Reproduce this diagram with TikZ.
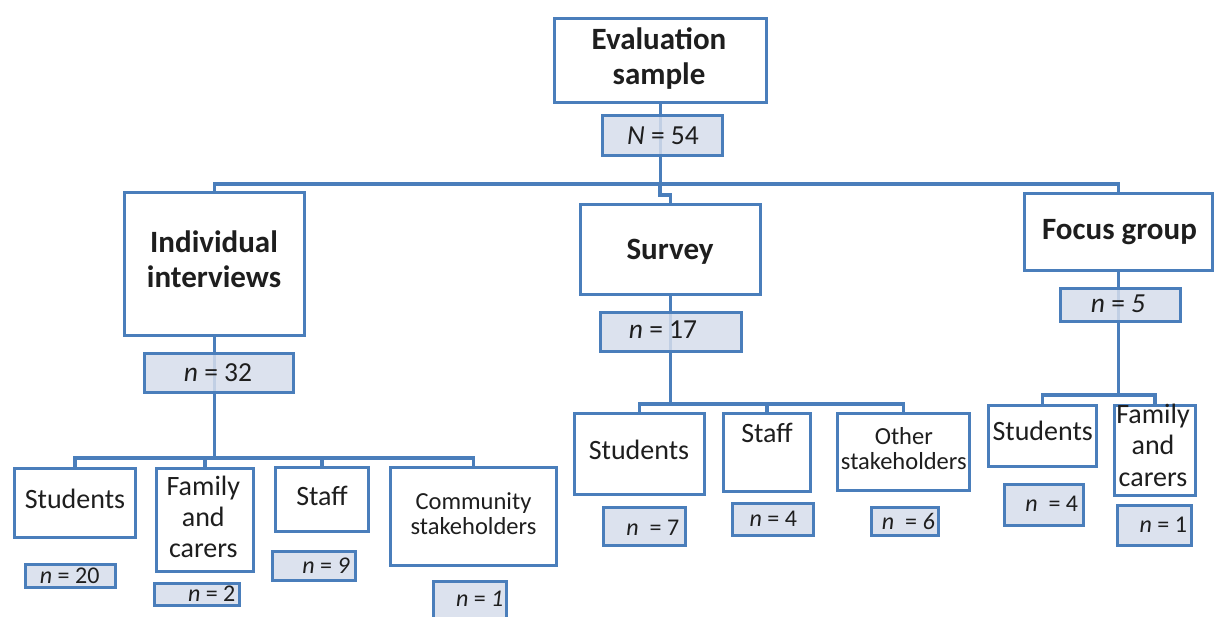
\documentclass[tikz,border=0pt]{standalone}
\usepackage{fontspec}
\setmainfont{Carlito}
\usetikzlibrary{backgrounds}
\definecolor{bl}{RGB}{74,126,187}
\definecolor{fl}{RGB}{214,222,236}
\definecolor{tx}{RGB}{30,30,30}
\tikzset{
  box/.style={draw=bl, line width=3.2pt, fill=white, rectangle, inner sep=0pt},
  nbox/.style={draw=bl, line width=3.2pt, fill=fl, fill opacity=0.85, draw opacity=1, rectangle, inner sep=0pt},
  conn/.style={draw=bl, line width=3.2pt},
  head/.style={font=\fontsize{31}{35}\selectfont\bfseries, align=center, anchor=base, inner sep=0pt, text=tx},
  sublbl/.style={font=\fontsize{28}{31}\selectfont, align=center, anchor=base, inner sep=0pt, text=tx},
  ffam/.style={font=\fontsize{28}{31.7}\selectfont, align=center, anchor=base, inner sep=0pt, text=tx},
  smlbl/.style={font=\fontsize{24.5}{25}\selectfont, align=center, anchor=base, inner sep=0pt, text=tx},
  numA/.style={font=\fontsize{27.5}{30}\selectfont, anchor=base, inner sep=0pt, text=tx},
  numB/.style={font=\fontsize{24}{26}\selectfont, anchor=base, inner sep=0pt, text=tx},
}
% box from outer corners (x1,y1)-(x2,y2), in pixels
\newcommand\mkbox[6]{\node[#6, minimum width={(#4-#2-3.2)*1pt}, minimum height={(#5-#3-3.2)*1pt}] (#1) at ({(#2+#4)/2},{(#3+#5)/2}) {};}
\begin{document}
\begin{tikzpicture}[x=1pt,y=-1pt]
\useasboundingbox (0,0) rectangle (1216,617);
\clip (0,0) rectangle (1216,617);
% main boxes
\mkbox{eval}{553}{17}{768}{104}{box}
\mkbox{ind}{123}{191}{306}{337}{box}
\mkbox{sur}{579}{203}{762}{296}{box}
\mkbox{foc}{1023}{192}{1214}{272}{box}
\mkbox{is}{13}{467}{137}{539}{box}
\mkbox{if}{155}{467}{255}{573}{box}
\mkbox{ist}{274}{466}{370}{533}{box}
\mkbox{ic}{389}{466}{558}{567}{box}
\mkbox{ss}{573}{412}{706}{496}{box}
\mkbox{sst}{722}{412}{812}{493}{box}
\mkbox{so}{836}{412}{971}{492}{box}
\mkbox{fs}{987}{404}{1098}{468}{box}
\mkbox{ff}{1113}{404}{1197}{497}{box}
% count boxes
\mkbox{n54}{601}{114}{724}{157}{nbox}
\mkbox{n32}{143}{352}{295}{394}{nbox}
\mkbox{n17}{599}{311}{743}{353}{nbox}
\mkbox{n5}{1059}{287}{1182}{323}{nbox}
\mkbox{n20}{24}{563}{117}{589}{nbox}
\mkbox{n2}{153}{582}{241}{607}{nbox}
\mkbox{n9}{271}{550}{357}{582}{nbox}
\mkbox{n1c}{432}{580}{508}{632}{nbox}
\mkbox{n7}{602}{506}{687}{547}{nbox}
\mkbox{n4s}{731}{502}{815}{537}{nbox}
\mkbox{n6}{870}{506}{940}{537}{nbox}
\mkbox{n4f}{1003}{483}{1085}{527}{nbox}
\mkbox{n1f}{1116}{504}{1193}{547}{nbox}
% bus coordinates
\coordinate (busM) at (660,184);
\coordinate (ibus) at (215,458);
\coordinate (sbus) at (670,404);
\coordinate (fbus) at (1119,395);
% connectors behind the boxes
\begin{pgfonlayer}{background}
\fill[white] (0,0) rectangle (1216,617);
\draw[conn] (eval.south) -- (eval.south |- busM);
\draw[conn] (ind.north) |- (busM) -| (foc.north);
\draw[conn] (busM) -- ++(0,11) -| (sur.north);
\draw[conn] (ind.south) -- (ind.south |- ibus);
\draw[conn] (is.north) |- (ibus) -| (ic.north);
\draw[conn] (if.north) -- (if.north |- ibus);
\draw[conn] (ist.north) -- (ist.north |- ibus);
\draw[conn] (sur.south) -- (sur.south |- sbus);
\draw[conn] (ss.north) |- (sbus) -| (so.north);
\draw[conn] (sst.north) -- (sst.north |- sbus);
\draw[conn] (foc.south) -- (foc.south |- fbus);
\draw[conn] (fs.north) |- (fbus) -| (ff.north);
\end{pgfonlayer}
% texts (anchor base = baseline of the last line)
\node[head] (evalT) at (659,85) {Evaluation\\sample};
\node[head] (indT) at (214,288) {Individual\\interviews};
\node[head] (surT) at (670,260) {Survey};
\node[head] (focT) at (1119.5,240) {Focus group};
\node[numA] (n54T) at (663,145) {\textit{N} = 54};
\node[numA] (n32T) at (218,381.7) {\textit{n} = 32};
\node[numA] (n17T) at (663,339) {\textit{n} = 17};
\node[numA] (n5T) at (1118,312.7) {\textit{n} = \textit{5}};
\node[sublbl] (isT) at (75,508.3) {Students};
\node[sublbl] (ifT) at (203.3,557.3) {Family\\and\\carers};
\node[sublbl] (istT) at (322,505.7) {Staff};
\node[smlbl] (icT) at (473.5,534) {Community\\stakeholders};
\node[sublbl] (ssT) at (639,460) {Students};
\node[sublbl] (sstT) at (767,442.7) {Staff};
\node[smlbl] (soT) at (903.8,470) {Other\\stakeholders};
\node[sublbl] (fsT) at (1042.7,441) {Students};
\node[ffam] (ffT) at (1153,486.7) {Family\\and\\carers};
\node[numB] (n20T) at (69.7,583.3) {\textit{n} = 20};
\node[numB] (n2T) at (211.7,601.7) {\textit{n} = 2};
\node[numB] (n9T) at (326,573.3) {\textit{n} = \textit{9}};
\node[numB] (n1cT) at (479.7,606.7) {\textit{n} = \textit{1}};
\node[numB] (n7T) at (652.8,535) {\textit{n}\ \ = 7};
\node[numB] (n4sT) at (773.3,526.7) {\textit{n} = 4};
\node[numB] (n6T) at (908.3,529) {\textit{n}\ \ = \textit{6}};
\node[numB] (n4fT) at (1051.7,511.7) {\textit{n}\ \ = 4};
\node[numB] (n1fT) at (1163.3,532.3) {\textit{n} = 1};
\end{tikzpicture}
\end{document}
